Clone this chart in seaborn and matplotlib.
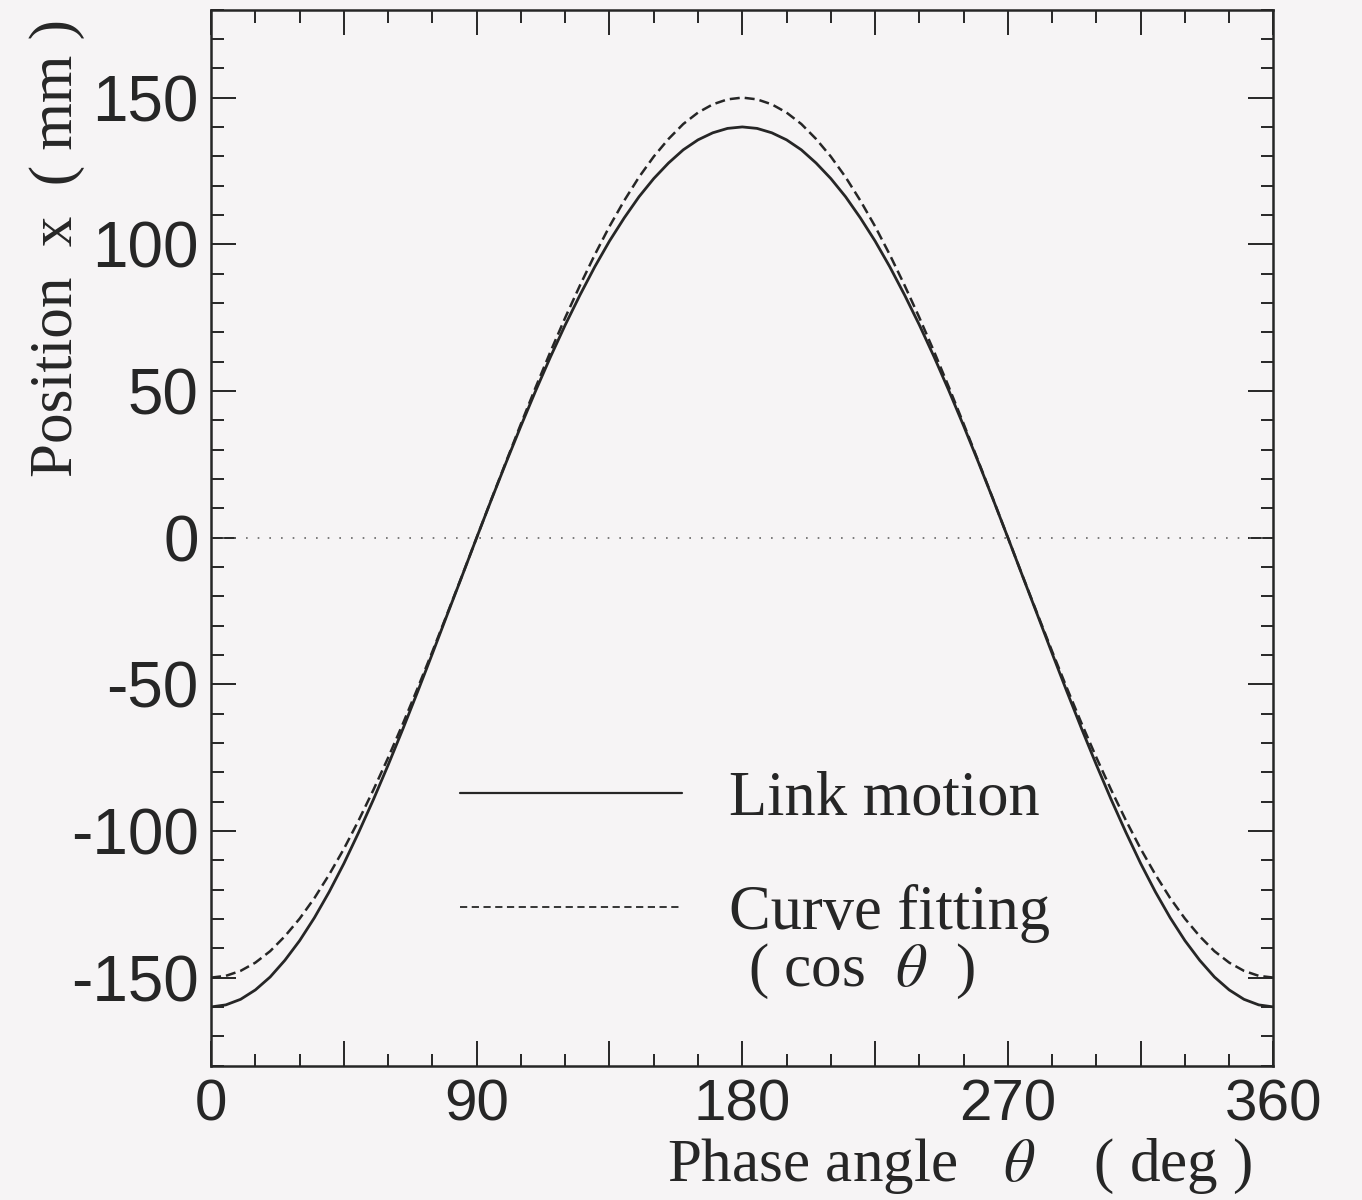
import numpy as np
import pandas as pd
import matplotlib
matplotlib.use("Agg")
import matplotlib.pyplot as plt
from matplotlib.lines import Line2D
from matplotlib.ticker import MultipleLocator, FuncFormatter
import seaborn as sns

# Phase angle grid (deg)
theta = list(range(0, 361, 5))

# Slider position from the link mechanism (mm)
link_motion = [
    -160.0, -159.3, -157.4, -154.2, -149.8, -144.1, -137.4, -129.6, -120.8,
    -111.1, -100.5, -89.3, -77.5, -65.2, -52.5, -39.5, -26.3, -13.2, 0.0,
    13.0, 25.7, 38.1, 50.1, 61.6, 72.5, 82.7, 92.3, 101.1, 109.0,
    116.2, 122.4, 127.7, 132.2, 135.6, 138.0, 139.5, 140.0,
    139.5, 138.0, 135.6, 132.2, 127.7, 122.4, 116.2, 109.0, 101.1,
    92.3, 82.7, 72.5, 61.6, 50.1, 38.1, 25.7, 13.0, 0.0,
    -13.2, -26.3, -39.5, -52.5, -65.2, -77.5, -89.3, -100.5, -111.1,
    -120.8, -129.6, -137.4, -144.1, -149.8, -154.2, -157.4, -159.3, -160.0,
]

# Fitted cosine curve (mm)
curve_fit = [
    -150.0, -149.4, -147.7, -144.9, -141.0, -135.9, -129.9, -122.9, -114.9,
    -106.1, -96.4, -86.0, -75.0, -63.4, -51.3, -38.8, -26.0, -13.1, 0.0,
    13.1, 26.0, 38.8, 51.3, 63.4, 75.0, 86.0, 96.4, 106.1, 114.9,
    122.9, 129.9, 135.9, 141.0, 144.9, 147.7, 149.4, 150.0,
    149.4, 147.7, 144.9, 141.0, 135.9, 129.9, 122.9, 114.9, 106.1,
    96.4, 86.0, 75.0, 63.4, 51.3, 38.8, 26.0, 13.1, 0.0,
    -13.1, -26.0, -38.8, -51.3, -63.4, -75.0, -86.0, -96.4, -106.1,
    -114.9, -122.9, -129.9, -135.9, -141.0, -144.9, -147.7, -149.4, -150.0,
]

x_ticklabels = ["0", "90", "180", "270", "360"]
y_ticks = [-150, -100, -50, 0, 50, 100, 150]

legend_labels = ["Link motion", "Curve fitting"]
legend_note = "( cos  $\\theta$  )"
x_label = "Phase angle   $\\theta$    ( deg )"
y_label = "Position  x  ( mm )"

paper = "#f6f4f5"
ink = "#262626"

sns.set_theme(style="ticks")
plt.rcParams["font.family"] = ["Liberation Serif", "DejaVu Serif"]
plt.rcParams["mathtext.fontset"] = "stix"
plt.rcParams["axes.unicode_minus"] = False

df = pd.DataFrame({"theta": theta, "link": link_motion, "fit": curve_fit})

fig = plt.figure(figsize=(13.62, 12), dpi=100, facecolor=paper)
ax = fig.add_axes([0.155, 0.112, 0.78, 0.88])
ax.set_facecolor(paper)

ax.axhline(0, color="#666666", lw=1.2, ls=(0, (1, 6)), zorder=1)

sns.lineplot(data=df, x="theta", y="link", ax=ax, color=ink, lw=2.0,
             legend=False, zorder=3)
sns.lineplot(data=df, x="theta", y="fit", ax=ax, color=ink, lw=1.8,
             linestyle=(0, (4, 2)), legend=False, zorder=3)

ax.set_xlim(0, 360)
ax.set_ylim(-180, 180)

ax.xaxis.set_major_locator(MultipleLocator(45))
ax.xaxis.set_minor_locator(MultipleLocator(15))
ax.xaxis.set_major_formatter(
    FuncFormatter(lambda v, p: x_ticklabels[int(round(v / 90))] if abs(v % 90) < 1e-6 else ""))
ax.set_yticks(y_ticks)
ax.yaxis.set_minor_locator(MultipleLocator(10))

for side in ax.spines.values():
    side.set_linewidth(1.8)
    side.set_color(ink)

ax.tick_params(which="both", direction="in", top=True, right=True,
               color=ink, width=1.4)
ax.tick_params(which="major", length=18, pad=9)
ax.tick_params(which="minor", length=9)
ax.tick_params(axis="x", labelsize=42, labelcolor=ink)
ax.tick_params(axis="y", labelsize=46, labelcolor=ink)
for lab in ax.get_xticklabels() + ax.get_yticklabels():
    lab.set_family(["Liberation Sans", "DejaVu Sans"])

ax.set_xlabel(x_label, fontsize=44, color=ink)
ax.xaxis.label.set_verticalalignment("center")
ax.xaxis.set_label_coords(0.705, -0.095)

ax.set_ylabel(y_label, fontsize=44, color=ink)
ax.yaxis.label.set_verticalalignment("center")
ax.yaxis.label.set_horizontalalignment("center")
ax.yaxis.label.set_rotation_mode("anchor")
ax.yaxis.set_label_coords(-0.145, 0.7746)

handles = [
    Line2D([], [], color=ink, lw=1.6),
    Line2D([], [], color=ink, lw=1.3, ls=(0, (4, 2.5))),
]
ax.legend(handles, legend_labels, loc="upper left",
          bbox_to_anchor=(0.2345, 0.279), frameon=False, fontsize=45,
          handlelength=3.55, handletextpad=0.75, labelspacing=0.88,
          borderpad=0, borderaxespad=0, labelcolor=ink)
ax.text(0.5056, 0.089, legend_note, transform=ax.transAxes, fontsize=44,
        color=ink, va="center", ha="left")

fig.savefig("out.png", dpi=100, facecolor=paper)
